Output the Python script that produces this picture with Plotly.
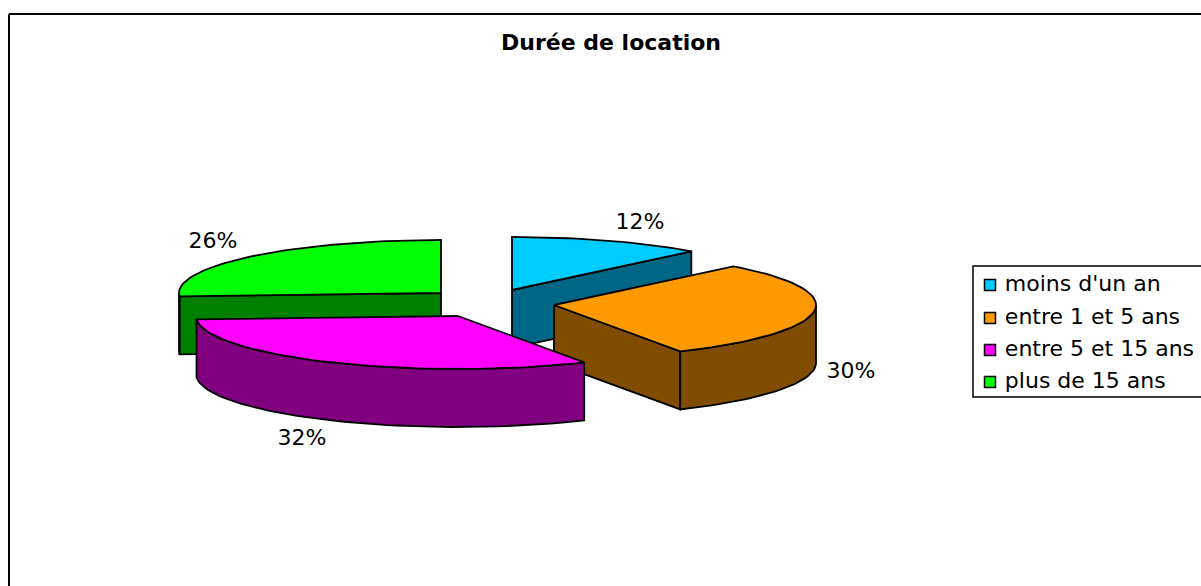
import math
import plotly.graph_objects as go

# ---- data ----
categories = ["moins d'un an", "entre 1 et 5 ans", "entre 5 et 15 ans", "plus de 15 ans"]
values = [12, 30, 32, 26]
title_text = "Durée de location"

# ---- styles ----
top_colors = ["#00CCFF", "#FF9900", "#FF00FF", "#00FF00"]
wall_colors = ["#006685", "#804D00", "#800080", "#008000"]
apexes = [(512, 290), (554, 305), (458, 316), (441, 293)]   # exploded slice centres
label_pos = [(640, 223), (851, 372), (302, 439), (213, 242)]
legend_y = [285, 318, 350, 382]
draw_order = [0, 1, 3, 2]
RX, RY, DEPTH = 262, 53, 58
FONT = "DejaVu Sans"
LABEL_SIZE = 22
LINE_W = 1.8


def pt(c, t, dz=0):
    return c[0] + RX * math.sin(t), c[1] - RY * math.cos(t) + dz


def arc(c, a, b, dz=0):
    n = max(2, int(abs(b - a) / math.radians(2)))
    return [pt(c, a + (b - a) * i / n, dz) for i in range(n + 1)]


def poly(points, color):
    xs = [p[0] for p in points] + [points[0][0]]
    ys = [p[1] for p in points] + [points[0][1]]
    return go.Scatter(x=xs, y=ys, mode="lines", fill="toself", fillcolor=color,
                      line=dict(color="black", width=LINE_W), hoverinfo="skip",
                      showlegend=False)


fig = go.Figure()
total = sum(values)
angles = [0]
for v in values:
    angles.append(angles[-1] + 2 * math.pi * v / total)

for i in draw_order:
    a, b, c = angles[i], angles[i + 1], apexes[i]
    down = (c[0], c[1] + DEPTH)
    # radial faces that look towards the viewer
    if math.cos(a - math.pi / 2) < 0:
        fig.add_trace(poly([c, pt(c, a), pt(c, a, DEPTH), down], wall_colors[i]))
    if math.cos(b + math.pi / 2) < 0:
        fig.add_trace(poly([c, pt(c, b), pt(c, b, DEPTH), down], wall_colors[i]))
    # visible part of the outer wall
    lo, hi = max(a, math.pi / 2), min(b, 3 * math.pi / 2)
    if lo < hi:
        fig.add_trace(poly(arc(c, lo, hi) + arc(c, hi, lo, DEPTH), wall_colors[i]))
    # top face
    fig.add_trace(poly([c] + arc(c, a, b), top_colors[i]))

# percentage labels
fig.add_trace(go.Scatter(
    x=[p[0] for p in label_pos], y=[p[1] for p in label_pos], mode="text",
    text=[f"{round(100 * v / total)}%" for v in values],
    textfont=dict(family=FONT, size=LABEL_SIZE, color="black"),
    textposition="middle center", hoverinfo="skip", showlegend=False))

# legend entries
for i, name in enumerate(categories):
    fig.add_trace(go.Scatter(
        x=[990], y=[legend_y[i]], mode="markers+text", text=[" " + name],
        name=name, textposition="middle right",
        textfont=dict(family=FONT, size=LABEL_SIZE, color="black"),
        marker=dict(symbol="square", size=11, color=top_colors[i],
                    line=dict(color="black", width=1.5)),
        cliponaxis=False, hoverinfo="skip", showlegend=False))

fig.update_layout(
    width=1201, height=586, margin=dict(l=0, r=0, t=0, b=0),
    paper_bgcolor="white", plot_bgcolor="white", showlegend=False,
    xaxis=dict(range=[0, 1201], visible=False, fixedrange=True),
    yaxis=dict(range=[586, 0], visible=False, fixedrange=True),
    shapes=[
        dict(type="line", x0=9, x1=1201, y0=14, y1=14, line=dict(color="black", width=2)),
        dict(type="line", x0=9, x1=9, y0=14, y1=586, line=dict(color="black", width=2)),
        dict(type="rect", x0=973, x1=1210, y0=266, y1=397, line=dict(color="black", width=1.5)),
    ],
    annotations=[dict(x=611, y=42, xref="x", yref="y", text=f"<b>{title_text}</b>",
                      showarrow=False, xanchor="center", yanchor="middle",
                      font=dict(family=FONT, size=22, color="black"))],
)

fig.write_html("out.html", config={"displayModeBar": False},
               post_script="document.body.style.margin='0';document.body.style.overflow='hidden';")
